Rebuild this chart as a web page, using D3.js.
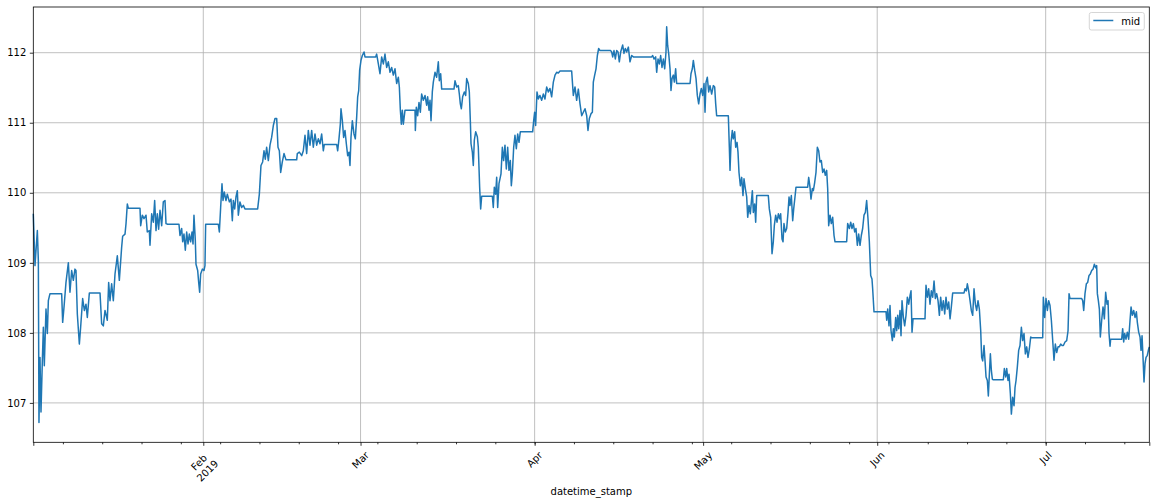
<!DOCTYPE html>
<html>
<head>
<meta charset="utf-8">
<script src="https://cdn.jsdelivr.net/npm/d3@7"></script>
<style>
  body { margin: 0; background: #fff; }
  text { font-family: "DejaVu Sans", sans-serif; font-size: 10px; fill: #000; }
</style>
</head>
<body>
<div id="chart"></div>
<script>
// [days since 2019-01-01 00:00 UTC, mid price]
const midJan = [[0.73,109.70],[1.03,108.96],[1.45,109.46],[1.63,109.03],[1.74,106.72],[1.92,107.65],[2.10,106.87],[2.34,107.60],[2.52,108.08],[2.69,107.53],[2.99,108.34],[3.23,107.99],[3.41,108.46],[3.70,108.56],[5.78,108.56],[5.96,108.15],[6.20,108.37],[6.55,108.72],[6.97,109.00],[7.26,108.58],[7.56,108.89],[7.86,108.75],[8.15,108.91],[8.33,108.89],[8.57,108.27],[8.93,107.84],[9.16,108.08],[9.52,108.49],[9.82,108.32],[10.11,108.41],[10.35,108.22],[10.71,108.57],[12.61,108.57],[12.90,108.13],[13.20,108.10],[13.50,108.32],[13.91,108.18],[14.15,108.72],[14.39,108.46],[14.68,108.70],[14.98,108.46],[15.28,108.84],[15.69,109.10],[16.05,108.75],[16.46,109.22],[16.64,109.38],[17.06,109.41],[17.24,109.56],[17.47,109.84],[17.65,109.78],[19.73,109.78],[19.85,109.53],[20.14,109.68],[20.44,109.63],[20.80,109.68],[21.03,109.44],[21.39,109.46],[21.51,109.25],[21.81,109.70],[22.10,109.58],[22.34,109.89],[22.58,109.46],[22.81,109.70],[23.05,109.48],[23.29,109.75],[23.59,109.53],[23.88,109.87],[24.18,109.89],[24.36,109.56],[24.66,109.55],[26.67,109.55],[26.85,109.39],[27.15,109.49],[27.33,109.30],[27.56,109.41],[27.80,109.18],[28.04,109.44],[28.28,109.27],[28.51,109.41],[28.75,109.30],[28.99,109.44],[29.17,109.27],[29.34,109.68],[29.58,109.32],[29.70,108.98],[30.00,108.89],[30.18,108.72],[30.35,108.58],[30.53,108.84],[30.83,108.91]];
const midFeb = [[31.12,108.89],[31.30,108.96],[31.42,109.55],[33.68,109.55],[33.86,109.44],[34.09,109.79],[34.33,110.13],[34.51,109.89],[34.74,110.01],[35.04,109.89],[35.28,109.98],[35.64,109.87],[35.93,109.91],[36.17,109.60],[36.35,109.89],[36.59,109.77],[36.82,109.94],[37.06,110.03],[37.24,109.68],[37.53,109.87],[37.83,109.79],[38.13,109.82],[38.42,109.77],[40.68,109.77],[40.98,109.98],[41.27,110.39],[41.57,110.44],[41.81,110.60],[42.04,110.48],[42.28,110.65],[42.58,110.46],[42.88,110.68],[43.17,110.79],[43.47,110.96],[43.77,111.06],[44.07,111.06],[44.30,110.65],[44.54,110.60],[44.78,110.29],[45.07,110.44],[45.37,110.56],[45.73,110.47],[47.63,110.47],[47.74,110.56],[48.10,110.58],[48.52,110.53],[48.81,110.60],[49.11,110.82],[49.41,110.56],[49.70,110.89],[50.00,110.68],[50.30,110.89],[50.59,110.65],[50.89,110.84],[51.19,110.68],[51.48,110.77],[51.78,110.70],[52.08,110.84],[52.37,110.60],[52.55,110.69],[54.75,110.69],[54.93,110.60],[55.16,110.77],[55.40,110.98],[55.52,111.20],[55.76,111.03],[55.99,110.79],[56.23,110.89],[56.47,110.70],[56.71,110.53],[56.94,110.58],[57.12,110.39],[57.30,110.79],[57.54,111.03],[57.83,110.84],[58.07,110.77],[58.31,111.08],[58.49,111.37],[58.67,111.46],[58.84,111.75]];
const midMar = [[59.08,111.89],[59.32,111.96],[59.62,112.01],[59.79,111.94],[61.69,111.94],[61.87,111.98],[62.17,111.84],[62.46,111.70],[62.76,111.94],[63.06,111.84],[63.35,111.98],[63.65,111.79],[63.95,111.87],[64.25,111.72],[64.54,111.79],[64.84,111.68],[65.14,111.77],[65.43,111.56],[65.73,111.65],[65.91,111.51],[66.09,111.18],[66.26,110.98],[66.44,111.18],[66.62,110.98],[66.92,111.18],[68.70,111.18],[68.76,110.89],[68.93,111.22],[69.17,111.10],[69.41,111.29],[69.65,111.15],[69.88,111.41],[70.18,111.32],[70.48,111.39],[70.77,111.25],[70.95,111.37],[71.19,111.18],[71.37,111.32],[71.55,111.03],[71.78,111.44],[71.96,111.58],[72.26,111.72],[72.55,111.65],[72.85,111.87],[73.03,111.60],[73.27,111.70],[73.45,111.48],[75.64,111.48],[75.82,111.60],[76.12,111.51],[76.41,111.53],[76.59,111.41],[76.77,111.27],[76.95,111.20],[77.18,111.37],[77.48,111.44],[77.72,111.39],[77.90,111.63],[78.19,111.56],[78.37,111.44],[78.55,111.03],[78.67,110.70],[78.91,110.58],[79.08,110.39],[79.26,110.75],[79.50,110.87],[79.80,110.80],[79.97,110.65],[80.21,110.08],[80.39,109.77],[80.57,109.95],[82.47,109.95],[82.64,109.79],[82.82,110.08],[83.06,109.98],[83.24,110.22],[83.42,109.79],[83.65,110.13],[84.01,110.27],[84.25,110.65],[84.48,110.46],[84.72,110.68],[84.96,110.34],[85.20,110.65],[85.43,110.32],[85.67,110.46],[85.85,110.10],[86.03,110.27],[86.27,110.65],[86.50,110.82],[86.74,110.63],[86.98,110.84],[87.22,110.72],[87.45,110.87],[89.65,110.87],[89.83,111.03]];
const midApr = [[90.00,111.15],[90.18,110.96],[90.42,111.44],[90.66,111.34],[90.95,111.39],[91.25,111.32],[91.55,111.41],[91.84,111.34],[92.14,111.51],[92.44,111.44],[92.73,111.49],[93.03,111.37],[93.33,111.58],[93.63,111.68],[93.92,111.72],[94.22,111.71],[94.52,111.74],[96.59,111.74],[96.89,111.39],[97.19,111.51],[97.48,111.32],[97.78,111.48],[98.08,111.27],[98.38,111.10],[98.67,111.15],[98.97,111.20],[99.27,111.10],[99.50,110.89],[99.74,111.06],[100.04,111.13],[100.28,111.15],[100.45,111.58],[100.69,111.68],[100.93,111.77],[101.17,111.96],[101.40,112.06],[101.64,112.03],[103.54,112.03],[103.72,112.01],[103.90,111.94],[104.13,112.03],[104.37,111.91],[104.61,112.03],[104.85,112.01],[105.08,111.87],[105.32,112.01],[105.68,112.11],[105.91,111.99],[106.15,112.06],[106.39,112.01],[106.69,112.08],[106.98,111.87],[107.28,111.96],[107.58,111.94],[110.84,111.94],[111.02,111.96],[111.26,111.91],[111.55,111.94],[111.73,111.72],[111.97,111.91],[112.21,111.84],[112.44,111.96],[112.68,111.79],[112.92,111.91],[113.16,111.77],[113.39,112.01],[113.51,112.37],[113.69,112.10],[113.87,111.99],[114.11,111.77],[114.28,111.46],[114.46,111.63],[114.70,111.68],[114.88,111.58],[115.11,111.77],[115.29,111.56],[117.67,111.56],[117.84,111.70],[118.08,111.77],[118.26,111.89],[118.50,111.75],[118.74,111.63],[118.97,111.39],[119.21,111.27],[119.45,111.41],[119.68,111.49],[119.92,111.39]];
const midMay = [[120.16,111.56],[120.34,111.15],[120.52,111.58],[120.75,111.65],[120.99,111.44],[121.23,111.53],[121.52,111.41],[121.82,111.53],[122.06,111.51],[122.24,111.27],[122.41,111.10],[124.49,111.10],[124.67,110.65],[124.79,110.32],[124.97,110.72],[125.20,110.89],[125.38,110.77],[125.62,110.87],[125.80,110.65],[126.04,110.72],[126.21,110.58],[126.39,110.29],[126.63,110.10],[126.87,110.22],[127.10,109.96],[127.28,110.20],[127.52,110.06],[127.76,109.94],[127.94,109.65],[128.17,109.82],[128.41,109.70],[128.59,109.87],[128.77,110.03],[128.94,109.72],[129.18,109.84],[129.36,109.58],[129.54,109.96],[131.61,109.96],[131.79,109.77],[132.03,109.65],[132.27,109.13],[132.50,109.30],[132.68,109.53],[132.92,109.68],[133.16,109.58],[133.40,109.70],[133.63,109.63],[133.81,109.70],[134.05,109.34],[134.23,109.30],[134.40,109.56],[134.64,109.44],[134.88,109.49],[135.12,109.72],[135.30,109.94],[135.47,109.82],[135.71,109.96],[135.95,109.60],[136.13,109.77],[136.36,109.94],[136.54,110.08],[138.62,110.08],[138.80,110.22],[139.03,110.08],[139.21,109.91],[139.45,110.06],[139.63,110.03],[139.87,110.15],[140.10,110.29],[140.34,110.65],[140.58,110.60],[140.81,110.44],[141.05,110.46],[141.29,110.29],[141.53,110.34],[141.76,110.25],[142.00,110.32],[142.18,110.06],[142.36,109.53],[142.60,109.68],[142.83,109.56],[143.07,109.65],[143.31,109.39],[143.49,109.30],[145.56,109.30],[145.74,109.56],[146.04,109.49],[146.28,109.58],[146.51,109.49],[146.75,109.56],[146.99,109.44],[147.22,109.49],[147.46,109.25],[147.70,109.41],[147.94,109.25],[148.17,109.39],[148.41,109.49],[148.65,109.68],[148.89,109.72],[149.12,109.89],[149.36,109.63],[149.60,109.30],[149.84,108.82],[150.07,108.77],[150.19,108.63],[150.43,108.30],[150.49,108.30]];
const midJun = [[152.57,108.30],[152.69,108.18],[152.87,108.34],[153.10,108.10],[153.28,108.39],[153.46,108.03],[153.70,107.89],[153.88,108.06],[154.05,107.94],[154.29,108.22],[154.47,108.03],[154.65,108.25],[154.83,108.06],[155.06,108.32],[155.24,107.96],[155.42,108.46],[155.66,108.22],[155.89,108.10],[156.13,108.25],[156.37,108.51],[156.61,108.41],[156.84,108.53],[157.02,108.60],[157.20,108.01],[157.38,108.20],[159.51,108.20],[159.69,108.68],[159.93,108.51],[160.17,108.63],[160.40,108.41],[160.64,108.60],[160.88,108.51],[161.12,108.74],[161.35,108.49],[161.59,108.56],[161.83,108.46],[162.07,108.25],[162.30,108.51],[162.54,108.32],[162.78,108.46],[163.02,108.27],[163.25,108.51],[163.49,108.34],[163.73,108.44],[163.97,108.20],[164.20,108.37],[164.44,108.57],[166.46,108.57],[166.64,108.63],[166.87,108.60],[167.05,108.70],[167.29,108.60],[167.53,108.46],[167.76,108.32],[168.00,108.25],[168.24,108.63],[168.48,108.41],[168.71,108.32],[168.95,108.46],[169.19,108.34],[169.43,108.03],[169.60,107.65],[169.78,107.60],[170.02,107.82],[170.20,107.60],[170.38,107.37],[170.61,107.32],[170.79,107.10],[170.97,107.41],[171.15,107.70],[171.33,107.46],[171.50,107.34],[171.68,107.33],[173.46,107.33],[173.64,107.49],[173.88,107.37],[174.06,107.49],[174.29,107.32],[174.47,107.41],[174.71,107.13],[174.89,106.84],[175.12,107.08],[175.36,106.96],[175.54,107.22],[175.72,107.32],[175.95,107.51],[176.19,107.75],[176.43,107.82],[176.67,108.08],[176.90,107.89],[177.14,107.99],[177.38,107.70],[177.62,107.80],[177.85,107.65],[178.09,107.77],[178.33,107.94],[178.57,107.93],[180.47,107.93],[180.58,108.51],[180.82,108.22]];
const midJul = [[181.06,108.49],[181.30,108.32],[181.53,108.46],[181.77,108.39],[182.01,108.18],[182.25,107.89],[182.48,107.61],[182.72,107.84],[182.96,107.72],[183.20,107.80],[183.43,107.80],[183.67,107.84],[183.91,107.82],[184.15,107.82],[184.44,107.87],[184.74,107.89],[184.98,108.03],[185.16,108.56],[185.33,108.49],[187.41,108.49],[187.59,108.46],[187.77,108.32],[188.00,108.56],[188.24,108.70],[188.48,108.72],[188.72,108.82],[188.95,108.84],[189.19,108.89],[189.43,108.91],[189.67,108.98],[189.90,108.93],[190.08,108.96],[190.20,108.56],[190.38,108.46],[190.56,108.34],[190.73,107.94],[190.97,108.18],[191.21,108.37],[191.45,108.20],[191.68,108.58],[191.92,108.41],[192.10,108.46],[192.28,107.99],[192.46,107.81],[192.57,107.91],[194.53,107.91],[194.71,108.06],[194.89,107.87],[195.07,107.99],[195.30,107.91],[195.54,108.01],[195.78,107.91],[196.02,108.18],[196.20,108.37],[196.43,108.25],[196.67,108.32],[196.91,108.22],[197.15,108.30],[197.32,108.15],[197.56,108.01],[197.80,107.94],[197.98,107.75],[198.16,107.96],[198.33,107.65],[198.51,107.30],[198.69,107.56],[198.87,107.65],[199.10,107.68],[199.34,107.77],[199.45,107.80]];

const yTicks = [107, 108, 109, 110, 111, 112];
const monthLabels = ["Feb\n2019", "Mar", "Apr", "May", "Jun", "Jul"];
const seriesName = "mid";
const xTitle = "datetime_stamp";

// layout
const width = 1156, height = 504;
const plotLeft = 33.3, plotRight = 1149.3, plotTop = 7, plotBottom = 442.3;
const lineColor = "#1f77b4";

const t0 = Date.UTC(2019, 0, 1);
const data = [].concat(midJan, midFeb, midMar, midApr, midMay, midJun, midJul)
    .map(function (p) { return {date: new Date(t0 + p[0] * 864e5), mid: p[1]}; });

const x = d3.scaleUtc()
    .domain(d3.extent(data, function (d) { return d.date; }))
    .range([plotLeft, plotRight]);

// matplotlib style 5% padding
const ext = d3.extent(data, function (d) { return d.mid; });
const pad = (ext[1] - ext[0]) * 0.05;
const y = d3.scaleLinear()
    .domain([ext[0] - pad, ext[1] + pad])
    .range([plotBottom, plotTop]);

const svg = d3.select("#chart").append("svg")
    .attr("width", width)
    .attr("height", height);

const monthTicks = d3.utcMonth.range(x.domain()[0], x.domain()[1]);
const mondays = d3.utcMonday.range(x.domain()[0], x.domain()[1]);

// grid
const grid = svg.append("g").attr("stroke", "#b0b0b0").attr("stroke-width", 0.8);
grid.selectAll(".gx").data(monthTicks).enter().append("line")
    .attr("x1", function (d) { return x(d); })
    .attr("x2", function (d) { return x(d); })
    .attr("y1", plotTop).attr("y2", plotBottom);
grid.selectAll(".gy").data(yTicks).enter().append("line")
    .attr("x1", plotLeft).attr("x2", plotRight)
    .attr("y1", function (d) { return y(d); })
    .attr("y2", function (d) { return y(d); });

// the series
const line = d3.line()
    .x(function (d) { return x(d.date); })
    .y(function (d) { return y(d.mid); });

svg.append("path")
    .datum(data)
    .attr("fill", "none")
    .attr("stroke", lineColor)
    .attr("stroke-width", 1.5)
    .attr("stroke-linejoin", "round")
    .attr("d", line);

// axes
function styleAxis(g) {
    g.select(".domain").remove();
    g.selectAll(".tick line").attr("stroke", "#000").attr("stroke-width", 0.8);
    g.attr("font-family", null).attr("font-size", null);
}

svg.append("g")
    .attr("transform", "translate(0," + plotBottom + ")")
    .call(d3.axisBottom(x).tickValues(mondays).tickSize(2).tickFormat(""))
    .call(styleAxis);

svg.append("g")
    .attr("transform", "translate(0," + plotBottom + ")")
    .call(d3.axisBottom(x).tickValues([x.domain()[0]].concat(monthTicks, [x.domain()[1]]))
        .tickSize(3.5).tickFormat(""))
    .call(styleAxis);

svg.append("g")
    .attr("transform", "translate(" + plotLeft + ",0)")
    .call(d3.axisLeft(y).tickValues(yTicks).tickSize(3.5).tickPadding(3.5).tickFormat(d3.format("d")))
    .call(styleAxis)
    .selectAll("text").attr("fill", "#000");

// rotated month labels (bbox centred on tick, top under the ticks)
const labelTop = plotBottom + 7;
monthTicks.forEach(function (t, i) {
    const lines = monthLabels[i].split("\n");
    const g = svg.append("g");
    const txt = g.append("text").attr("text-anchor", "middle");
    const lh = 12, asc = 9.3, fh = 11.7;
    const h = (lines.length - 1) * lh + fh;
    lines.forEach(function (s, k) {
        txt.append("tspan").attr("x", 0).attr("y", -h / 2 + asc + k * lh).text(s);
    });
    let w = 0;
    txt.selectAll("tspan").each(function () { w = Math.max(w, this.getComputedTextLength()); });
    const side = (w + h) / Math.SQRT2;
    g.attr("transform", "translate(" + x(t) + "," + (labelTop + side / 2) + ") rotate(-45)");
});

// axis title
svg.append("text")
    .attr("x", (plotLeft + plotRight) / 2)
    .attr("y", 494.5)
    .attr("text-anchor", "middle")
    .text(xTitle);

// spines
svg.append("rect")
    .attr("x", plotLeft).attr("y", plotTop)
    .attr("width", plotRight - plotLeft).attr("height", plotBottom - plotTop)
    .attr("fill", "none").attr("stroke", "#000").attr("stroke-width", 0.8);

// legend
const lg = svg.append("g").attr("transform", "translate(1089.3,12.5)");
lg.append("rect")
    .attr("width", 55).attr("height", 17.5).attr("rx", 2)
    .attr("fill", "#fff").attr("fill-opacity", 0.8)
    .attr("stroke", "#cccccc").attr("stroke-width", 0.8);
lg.append("line")
    .attr("x1", 4).attr("x2", 24).attr("y1", 8).attr("y2", 8)
    .attr("stroke", lineColor).attr("stroke-width", 1.5);
lg.append("text").attr("x", 32).attr("y", 12).text(seriesName);
</script>
</body>
</html>
